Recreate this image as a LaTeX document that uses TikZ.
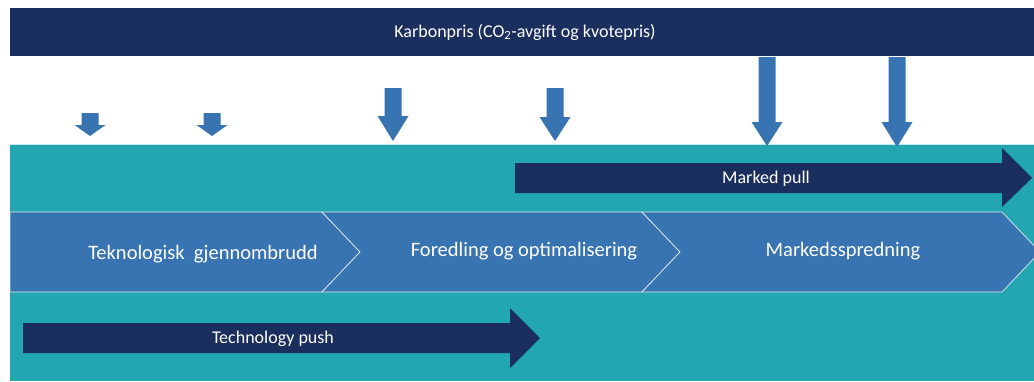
\documentclass[tikz,border=0pt]{standalone}
\usepackage{fontspec}
\setmainfont{Carlito}
\definecolor{navyband}{HTML}{1A2F5E}
\definecolor{tealbg}{HTML}{22A6B0}
\definecolor{stepblue}{HTML}{3873B2}
\tikzset{
  label text/.style={text=white, inner sep=0pt, font=\fontsize{18}{21}\selectfont},
  phase text/.style={text=white, inner sep=0pt, font=\fontsize{20.5}{24}\selectfont},
  phase/.style={fill=stepblue, draw=white!85!stepblue, line width=0.7pt},
}
\begin{document}
\begin{tikzpicture}[x=1pt, y=-1pt]

\path[use as bounding box] (0,0) rectangle (1034,381);

% Carbon price banner
\fill[navyband] (10,8) rectangle (1034,56);
\node[label text] (karbon) at (525,32) {Karbonpris (CO\textsubscript{2}-avgift og kvotepris)};

% Background band
\fill[tealbg] (10,144) rectangle (1034,381);
\draw[white!75!tealbg, line width=0.6pt] (10,144) -- (1034,144);

% Down arrows (x, top, head start, tip)
\foreach \cx/\top/\hs/\tip in {90/113/125/136, 212/113/125/136, 393/88/116/141,
                               555/88/117/141, 767/57/122/146, 897/57/122/147} {
  \fill[stepblue] (\cx-8.5,\top) -- (\cx+8.5,\top) -- (\cx+8.5,\hs) -- (\cx+15.5,\hs)
     -- (\cx,\tip) -- (\cx-15.5,\hs) -- (\cx-8.5,\hs) -- cycle;
}

% Marked pull
\fill[navyband] (515,163) -- (1002,163) -- (1002,148) -- (1032,178) -- (1002,207)
   -- (1002,193) -- (515,193) -- cycle;
\node[label text] (pull) at (766,179) {Marked pull};

% Phases
\path[phase] (10,212) -- (322,212) -- (360,252) -- (322,292) -- (10,292) -- cycle;
\path[phase] (322,212) -- (642,212) -- (680,252) -- (642,292) -- (322,292)
   -- (360,252) -- cycle;
\path[phase] (642,212) -- (1002,212) -- (1040,252) -- (1002,292) -- (642,292)
   -- (680,252) -- cycle;
\node[phase text] (tekno) at (203,254) {Teknologisk\ \ gjennombrudd};
\node[phase text] (foredling) at (524,251) {Foredling og optimalisering};
\node[phase text] (marked) at (843,251) {Markedsspredning};

% Technology push
\fill[navyband] (23,323) -- (510,323) -- (510,308) -- (540,338) -- (510,368)
   -- (510,353) -- (23,353) -- cycle;
\node[label text] (push) at (273,339) {Technology push};

\end{tikzpicture}
\end{document}
